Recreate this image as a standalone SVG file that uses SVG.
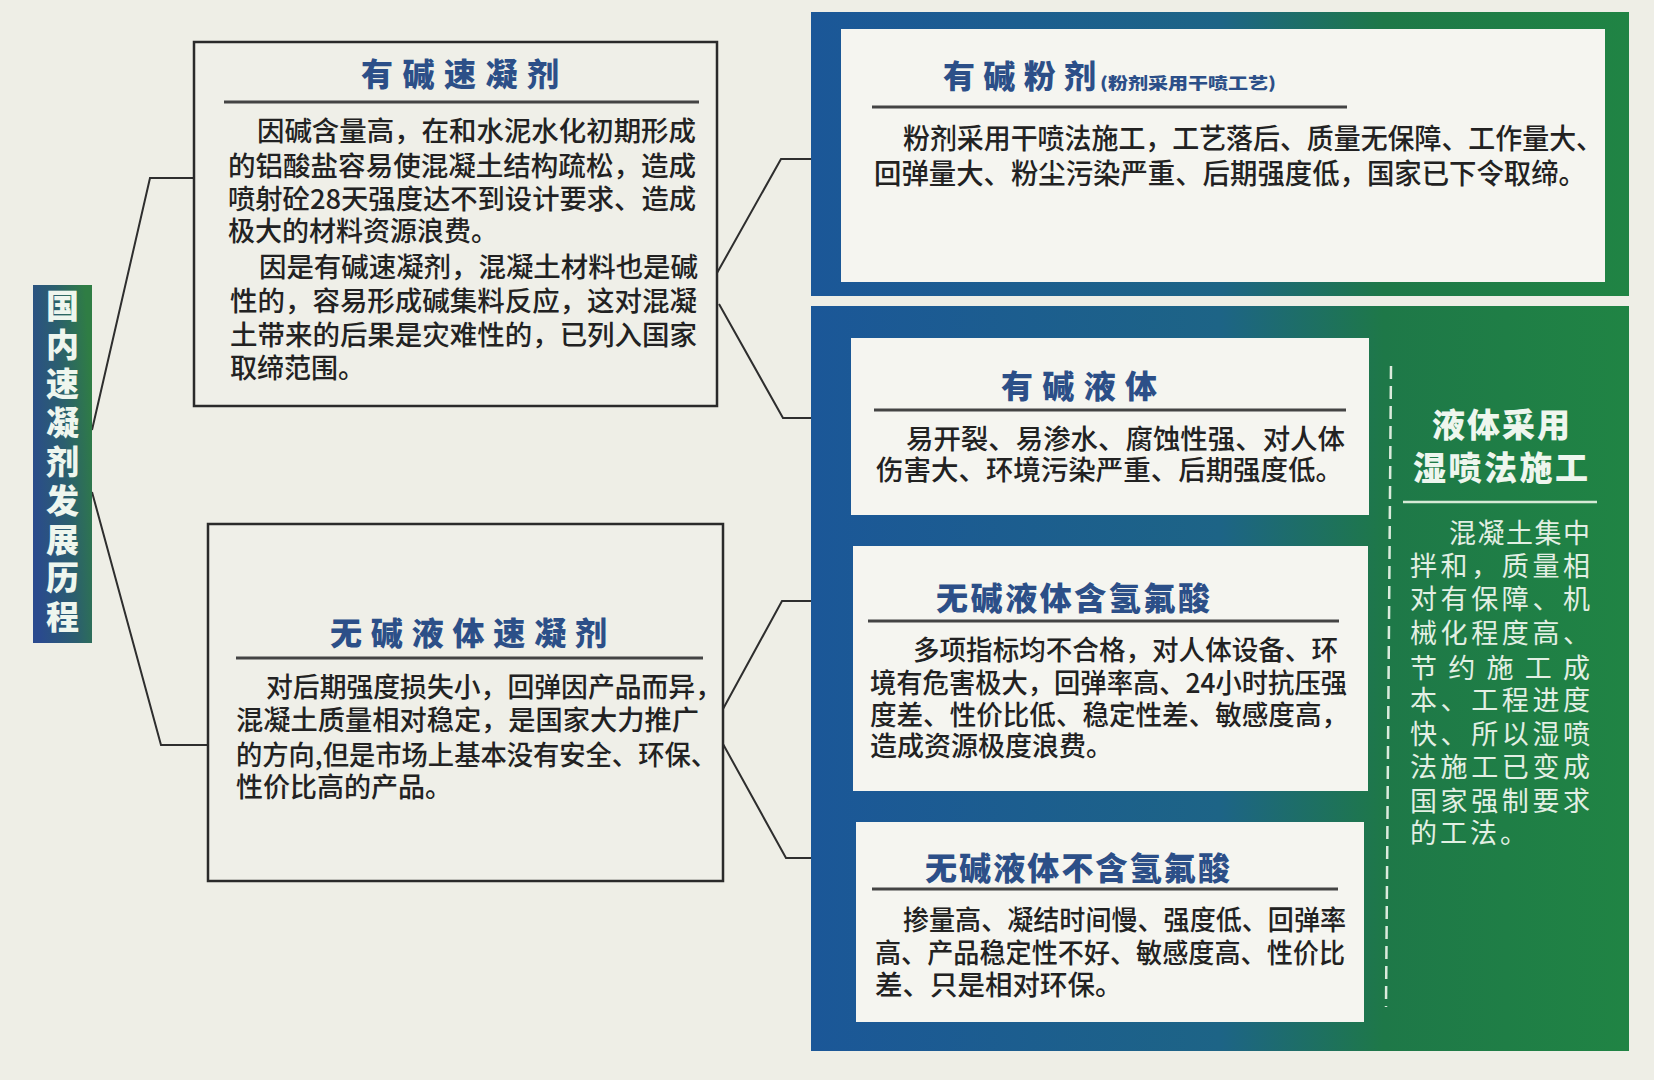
<svg xmlns="http://www.w3.org/2000/svg" width="1654" height="1080" viewBox="0 0 1654 1080">
<defs>
<linearGradient id="frameGrad" gradientUnits="userSpaceOnUse" x1="811" y1="0" x2="1629" y2="0">
<stop offset="0" stop-color="#1b5798"/>
<stop offset="0.5" stop-color="#1d6486"/>
<stop offset="0.7" stop-color="#1e7848"/>
<stop offset="1" stop-color="#208444"/>
</linearGradient>
<linearGradient id="labelGrad" x1="0" y1="0.7" x2="1" y2="0.3">
<stop offset="0" stop-color="#2a4a8e"/>
<stop offset="0.55" stop-color="#2b5f6e"/>
<stop offset="1" stop-color="#2f7d44"/>
</linearGradient>
<style>
.box{fill:#efefe8;stroke:#2a2a2a;stroke-width:2.5}
.white{fill:#f5f5f0}
.conn{fill:none;stroke:#2e2e2e;stroke-width:2}
.rule{stroke:#444;stroke-width:3}
.title{font-family:"Noto Sans CJK SC","Noto Sans",sans-serif;font-weight:900;fill:#2c4f88}
.body{font-family:"Noto Sans CJK SC","Noto Sans",sans-serif;font-weight:500;fill:#222}
.wt{font-family:"Noto Sans CJK SC","Noto Sans",sans-serif;font-weight:900;fill:#eef6ee}
.vl{font-family:"Noto Sans CJK SC","Noto Sans",sans-serif;font-weight:900;fill:#eef6ee;font-size:33px;text-anchor:middle}
.wb{font-family:"Noto Sans CJK SC","Noto Sans",sans-serif;font-weight:400;fill:#e2efe3;font-size:27px}
</style>
</defs>
<rect x="0" y="0" width="1654" height="1080" fill="#eeeee6"/>

<g id="connectors">
<polyline class="conn" points="92,430 150,178 196,178"/>
<polyline class="conn" points="92,492 161,745 208,745"/>
<polyline class="conn" points="717,273 781,159 811,159"/>
<polyline class="conn" points="719,304 783,418 811,418"/>
<polyline class="conn" points="723,709 782,601 811,601"/>
<polyline class="conn" points="723,744 786,858 811,858"/>
</g>

<g id="root-label">
<rect x="33" y="285" width="59" height="358" fill="url(#labelGrad)"/>
<text class="vl" x="62.5" y="318">国</text>
<text class="vl" x="62.5" y="357">内</text>
<text class="vl" x="62.5" y="396">速</text>
<text class="vl" x="62.5" y="435">凝</text>
<text class="vl" x="62.5" y="474">剂</text>
<text class="vl" x="62.5" y="513">发</text>
<text class="vl" x="62.5" y="552">展</text>
<text class="vl" x="62.5" y="590">历</text>
<text class="vl" x="62.5" y="629">程</text>
</g>

<g id="node-alkali-accelerator">
<rect class="box" x="194" y="42" width="523" height="364"/>
<text class="title" x="361" y="86" font-size="32" textLength="198" lengthAdjust="spacing">有碱速凝剂</text>
<line class="rule" x1="224" y1="102" x2="699" y2="102"/>
<g class="body" font-size="27">
<text x="257" y="141" textLength="439" lengthAdjust="spacingAndGlyphs">因碱含量高，在和水泥水化初期形成</text>
<text x="228" y="176" textLength="468" lengthAdjust="spacingAndGlyphs">的铝酸盐容易使混凝土结构疏松，造成</text>
<text x="228" y="209" textLength="468" lengthAdjust="spacingAndGlyphs">喷射砼28天强度达不到设计要求、造成</text>
<text x="228" y="241">极大的材料资源浪费。</text>
<text x="259" y="277" textLength="439" lengthAdjust="spacingAndGlyphs">因是有碱速凝剂，混凝土材料也是碱</text>
<text x="230" y="311" textLength="467" lengthAdjust="spacingAndGlyphs">性的，容易形成碱集料反应，这对混凝</text>
<text x="230" y="345" textLength="467" lengthAdjust="spacingAndGlyphs">土带来的后果是灾难性的，已列入国家</text>
<text x="230" y="378">取缔范围。</text>
</g>
</g>

<g id="node-alkali-free-accelerator">
<rect class="box" x="208" y="524" width="515" height="357"/>
<text class="title" x="330" y="645" font-size="32" textLength="277" lengthAdjust="spacing">无碱液体速凝剂</text>
<line class="rule" x1="236" y1="658" x2="703" y2="658"/>
<g class="body" font-size="27">
<text x="266" y="697" textLength="456" lengthAdjust="spacingAndGlyphs">对后期强度损失小，回弹因产品而异，</text>
<text x="236" y="730" textLength="463" lengthAdjust="spacingAndGlyphs">混凝土质量相对稳定，是国家大力推广</text>
<text x="236" y="765" textLength="481" lengthAdjust="spacingAndGlyphs">的方向,但是市场上基本没有安全、环保、</text>
<text x="236" y="797">性价比高的产品。</text>
</g>
</g>

<g id="node-alkali-powder">
<rect x="811" y="12" width="818" height="284" fill="url(#frameGrad)"/>
<rect class="white" x="841" y="29" width="764" height="253"/>
<text class="title" x="943" y="88" font-size="32" textLength="153" lengthAdjust="spacing">有碱粉剂</text>
<text class="title" x="1100" y="89" font-size="16" textLength="176" lengthAdjust="spacingAndGlyphs">(粉剂采用干喷工艺)</text>
<line class="rule" x1="872" y1="107" x2="1347" y2="107"/>
<g class="body" font-size="28">
<text x="903" y="149" textLength="700" lengthAdjust="spacingAndGlyphs">粉剂采用干喷法施工，工艺落后、质量无保障、工作量大、</text>
<text x="874" y="184" textLength="712" lengthAdjust="spacingAndGlyphs">回弹量大、粉尘污染严重、后期强度低，国家已下令取缔。</text>
</g>
</g>

<g id="node-liquid-panel">
<rect x="811" y="306" width="818" height="745" fill="url(#frameGrad)"/>
<line x1="1391" y1="366" x2="1386" y2="1007" stroke="#dcebdd" stroke-width="2.5" stroke-dasharray="13 7"/>
<text class="wt" x="1432" y="437" font-size="33" textLength="138" lengthAdjust="spacing">液体采用</text>
<text class="wt" x="1413" y="480" font-size="33" textLength="175" lengthAdjust="spacing">湿喷法施工</text>
<line x1="1403" y1="502" x2="1597" y2="502" stroke="#d6ead6" stroke-width="2.5"/>
<g class="wb">
<text x="1449" y="543" textLength="141" lengthAdjust="spacing">混凝土集中</text>
<text x="1410" y="576" textLength="180" lengthAdjust="spacing">拌和，质量相</text>
<text x="1410" y="609" textLength="180" lengthAdjust="spacing">对有保障、机</text>
<text x="1410" y="643" textLength="180" lengthAdjust="spacing">械化程度高、</text>
<text x="1410" y="678" textLength="180" lengthAdjust="spacing">节约施工成</text>
<text x="1410" y="710" textLength="180" lengthAdjust="spacing">本、工程进度</text>
<text x="1410" y="744" textLength="180" lengthAdjust="spacing">快、所以湿喷</text>
<text x="1410" y="777" textLength="180" lengthAdjust="spacing">法施工已变成</text>
<text x="1410" y="811" textLength="180" lengthAdjust="spacing">国家强制要求</text>
<text x="1410" y="843" letter-spacing="3">的工法。</text>
</g>
</g>

<g id="node-alkali-liquid">
<rect class="white" x="851" y="338" width="518" height="177"/>
<text class="title" x="1001" y="398" font-size="32" textLength="156" lengthAdjust="spacing">有碱液体</text>
<line class="rule" x1="874" y1="410" x2="1346" y2="410"/>
<g class="body" font-size="27.5">
<text x="906" y="449" textLength="439" lengthAdjust="spacingAndGlyphs">易开裂、易渗水、腐蚀性强、对人体</text>
<text x="876" y="480" textLength="467" lengthAdjust="spacingAndGlyphs">伤害大、环境污染严重、后期强度低。</text>
</g>
</g>

<g id="node-alkali-free-hf">
<rect class="white" x="853" y="546" width="515" height="245"/>
<text class="title" x="936" y="610" font-size="32" textLength="274" lengthAdjust="spacing">无碱液体含氢氟酸</text>
<line class="rule" x1="868" y1="621" x2="1339" y2="621"/>
<g class="body" font-size="27">
<text x="913" y="660" textLength="425" lengthAdjust="spacingAndGlyphs">多项指标均不合格，对人体设备、环</text>
<text x="870" y="693" textLength="477" lengthAdjust="spacingAndGlyphs">境有危害极大，回弹率高、24小时抗压强</text>
<text x="870" y="725" textLength="478" lengthAdjust="spacingAndGlyphs">度差、性价比低、稳定性差、敏感度高，</text>
<text x="870" y="756">造成资源极度浪费。</text>
</g>
</g>

<g id="node-alkali-free-no-hf">
<rect class="white" x="856" y="822" width="508" height="200"/>
<text class="title" x="925" y="880" font-size="32" textLength="305" lengthAdjust="spacing">无碱液体不含氢氟酸</text>
<line class="rule" x1="872" y1="889" x2="1338" y2="889"/>
<g class="body" font-size="27.5">
<text x="903" y="930" textLength="443" lengthAdjust="spacingAndGlyphs">掺量高、凝结时间慢、强度低、回弹率</text>
<text x="875" y="963" textLength="470" lengthAdjust="spacingAndGlyphs">高、产品稳定性不好、敏感度高、性价比</text>
<text x="875" y="995">差、只是相对环保。</text>
</g>
</g>
</svg>
